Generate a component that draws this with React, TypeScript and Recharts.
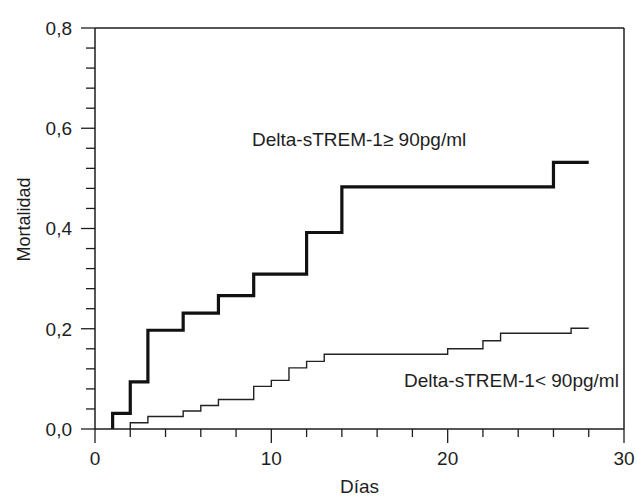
import { Customized, Line, LineChart, ReferenceLine, XAxis, YAxis } from "recharts";

const FONT = "'Liberation Sans', Arial, Helvetica, sans-serif";
const INK = "#1e1e1e";

// Delta-sTREM-1 >= 90 pg/ml (thick step line)
const highDays = [1, 1, 2, 3, 5, 7, 9, 12, 14, 26, 28];
const highValues = [0, 0.031, 0.094, 0.197, 0.231, 0.266, 0.309, 0.392, 0.483, 0.532, 0.532];

// Delta-sTREM-1 < 90 pg/ml (thin step line)
const lowDays = [2, 2, 3, 5, 6, 7, 9, 10, 11, 12, 13, 20, 22, 23, 27, 28];
const lowValues = [0, 0.0125, 0.025, 0.036, 0.047, 0.059, 0.085, 0.097, 0.122, 0.135, 0.149, 0.16, 0.176, 0.191, 0.201, 0.201];

const xTicks = [0, 2, 4, 6, 8, 10, 12, 14, 16, 18, 20, 22, 24, 26, 28, 30];
const yTicks = [0, 0.04, 0.08, 0.12, 0.16, 0.2, 0.24, 0.28, 0.32, 0.36, 0.4, 0.44, 0.48, 0.52, 0.56, 0.6, 0.64, 0.68, 0.72, 0.76, 0.8];

const highData = highDays.map((day, i) => ({ day, v: highValues[i] }));
const lowData = lowDays.map((day, i) => ({ day, v: lowValues[i] }));

const isMajorY = (v: number) => Math.abs(v * 5 - Math.round(v * 5)) < 1e-6;

function YTick({ x, y, payload }: any) {
  const axisX = x + 23;
  const major = isMajorY(payload.value);
  const len = major ? 14 : 9;
  return (
    <g>
      <line x1={axisX - len} x2={axisX} y1={y} y2={y} stroke={INK} strokeWidth={1.3} />
      {major && (
        <text x={x} y={y} dy="0.36em" textAnchor="end" fontSize={19} fontFamily={FONT} fill={INK}>
          {payload.value.toFixed(1).replace(".", ",")}
        </text>
      )}
    </g>
  );
}

function XTick({ x, y, payload }: any) {
  const axisY = y - 22;
  const major = payload.value % 10 === 0;
  const len = major ? 14 : 8;
  return (
    <g>
      <line x1={x} x2={x} y1={axisY} y2={axisY + len} stroke={INK} strokeWidth={1.3} />
      {major && (
        <text x={x} y={y} dy="0.72em" textAnchor="middle" fontSize={19} fontFamily={FONT} fill={INK}>
          {payload.value}
        </text>
      )}
    </g>
  );
}

function Notes() {
  return (
    <g fontFamily={FONT} fontSize={19} fill={INK}>
      <text x={252} y={146}>Delta-sTREM-1≥ 90pg/ml</text>
      <text x={404} y={387}>Delta-sTREM-1&lt; 90pg/ml</text>
    </g>
  );
}

export default function App() {
  return (
    <div style={{ position: "absolute", left: 0, top: 0, background: "#fff" }}>
      <LineChart width={637} height={499} margin={{ top: 28, right: 13, left: 0, bottom: 0 }}>
        <XAxis
          dataKey="day"
          type="number"
          domain={[0, 30]}
          ticks={xTicks}
          interval={0}
          tickSize={14}
          tickMargin={8}
          tickLine={false}
          tick={<XTick />}
          height={70}
          axisLine={{ stroke: INK, strokeWidth: 1.5 }}
          allowDataOverflow
          label={{
            content: ({ viewBox }: any) => (
              <text
                x={viewBox.x + viewBox.width / 2}
                y={viewBox.y + viewBox.height - 6}
                textAnchor="middle"
                fontSize={19}
                fontFamily={FONT}
                fill={INK}
              >
                Días
              </text>
            ),
          }}
        />
        <YAxis
          type="number"
          domain={[0, 0.8]}
          ticks={yTicks}
          interval={0}
          tickSize={14}
          tickMargin={9}
          tickLine={false}
          tick={<YTick />}
          width={95}
          axisLine={{ stroke: INK, strokeWidth: 1.5 }}
          allowDataOverflow
          label={{
            content: ({ viewBox }: any) => {
              const cx = 24;
              const cy = viewBox.y + viewBox.height / 2 - 9;
              return (
                <text
                  x={cx}
                  y={cy}
                  dy="0.36em"
                  textAnchor="middle"
                  transform={`rotate(-90 ${cx} ${cy})`}
                  fontSize={18}
                  fontFamily={FONT}
                  fill={INK}
                >
                  Mortalidad
                </text>
              );
            },
          }}
        />
        <ReferenceLine y={0.8} stroke={INK} strokeWidth={1.5} />
        <ReferenceLine x={30} stroke={INK} strokeWidth={1.5} />
        <Line
          data={lowData}
          dataKey="v"
          type="stepAfter"
          stroke="#222"
          strokeWidth={1.4}
          dot={false}
          activeDot={false}
          isAnimationActive={false}
        />
        <Line
          data={highData}
          dataKey="v"
          type="stepAfter"
          stroke="#111"
          strokeWidth={3.2}
          dot={false}
          activeDot={false}
          isAnimationActive={false}
        />
        <Customized component={<Notes />} />
      </LineChart>
    </div>
  );
}
